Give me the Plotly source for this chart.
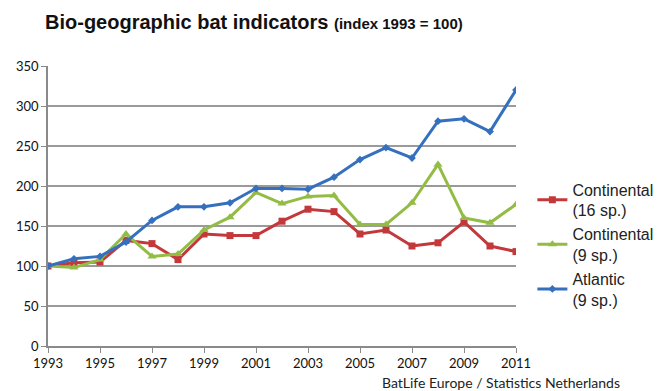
import plotly.graph_objects as go

years = list(range(1993, 2012))
cont16 = [100, 104, 105, 132, 128, 108, 140, 138, 138, 156, 171, 168, 140, 145, 125, 129, 155, 125, 118]
cont9 = [100, 98, 108, 140, 112, 115, 145, 161, 192, 178, 187, 188, 152, 152, 179, 227, 160, 154, 177]
atlantic = [100, 109, 112, 130, 157, 174, 174, 179, 197, 197, 196, 211, 233, 248, 235, 281, 284, 268, 320]

names = ["Continental<br>(16 sp.)", "Continental<br>(9 sp.)", "Atlantic<br>(9 sp.)"]
colors = ["#C3383A", "#93BC45", "#3570BF"]
symbols = ["square", "triangle-up", "diamond"]
msizes = [7, 8, 6]
xticks = list(range(1993, 2012, 2))
yticks = list(range(0, 351, 50))

fig = go.Figure()
for vals, name, c, s, ms in zip([cont16, cont9, atlantic], names, colors, symbols, msizes):
    fig.add_trace(go.Scatter(x=years, y=vals, name=name, mode="lines+markers",
                             line=dict(color=c, width=3),
                             marker=dict(symbol=s, size=ms, color=c)))

fig.update_layout(
    width=670, height=391,
    margin=dict(l=48, r=150, t=66, b=45),
    plot_bgcolor="white", paper_bgcolor="white",
    showlegend=True,
    legend=dict(x=1.035, y=0.62, xanchor="left", yanchor="top",
                font=dict(family="Liberation Sans, Arial", size=16, color="#222"),
                itemwidth=30, tracegroupgap=2, bgcolor="rgba(0,0,0,0)"),
    font=dict(family="Lato, Carlito, sans-serif", size=13, color="#111"),
)
fig.update_xaxes(range=[1993, 2011], tickvals=xticks, ticktext=[str(t) for t in xticks],
                 showgrid=False, showline=True, linecolor="#8a8a8a", linewidth=1.5,
                 ticks="outside", ticklen=5, tickcolor="#8a8a8a", zeroline=False,
                 tickfont=dict(family="Lato, sans-serif", size=13, color="#111"))
fig.update_yaxes(range=[0, 350], tickvals=yticks, showgrid=True, gridcolor="#9a9a9a", gridwidth=1.5,
                 showline=True, linecolor="#8a8a8a", linewidth=1.5, ticks="outside", ticklen=5,
                 tickcolor="#8a8a8a", zeroline=False,
                 tickfont=dict(family="Lato, sans-serif", size=13, color="#111"))

fig.add_annotation(xref="paper", yref="paper", x=-0.01, y=1.0, yshift=44, xanchor="left", yanchor="middle",
                   showarrow=False,
                   text="<b>Bio-geographic bat indicators</b> <b><span style='font-size:15px'>(index 1993 = 100)</span></b>",
                   font=dict(family="Liberation Sans, Arial", size=20, color="#111"))
fig.add_annotation(xref="paper", yref="paper", x=1.0, xshift=106, y=0, yshift=-36, xanchor="right", yanchor="middle",
                   showarrow=False, text="BatLife Europe / Statistics Netherlands",
                   font=dict(family="Lato, sans-serif", size=14, color="#222"))

fig.write_html("out.html")
